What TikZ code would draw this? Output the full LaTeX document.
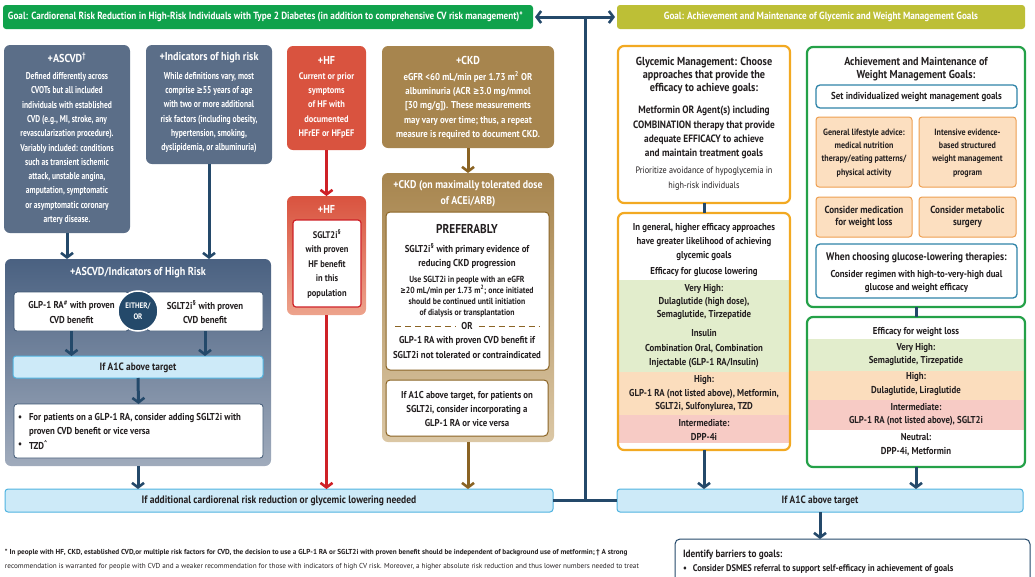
\documentclass[tikz,border=0pt]{standalone}
\usepackage{fontspec}
\setmainfont{PT Sans}[FakeStretch=0.88]
\newfontfamily\narrowf{PT Sans}[FakeStretch=0.76]
\newfontfamily\fnf{PT Sans}[FakeStretch=1.0]
\newfontfamily\djv{DejaVu Sans}[FakeStretch=0.75]
\usetikzlibrary{arrows.meta}
\newcommand{\fs}[2]{\fontsize{#1}{#2}\selectfont}
\newcommand{\gesym}{{\djv ≥}}
\definecolor{cnavy}{HTML}{24496A}
\definecolor{cslate}{HTML}{5B6E88}
\definecolor{cslateD}{HTML}{4A6181}
\definecolor{cslateL}{HTML}{A0ABBC}
\definecolor{cgreen}{HTML}{10A24C}
\definecolor{colive}{HTML}{BDBF36}
\definecolor{chf}{HTML}{D9533F}
\definecolor{chfL}{HTML}{EDA38C}
\definecolor{cred}{HTML}{CE2127}
\definecolor{cbrown}{HTML}{A7854E}
\definecolor{cbrownL}{HTML}{DBC7A5}
\definecolor{cbrownD}{HTML}{8A6323}
\definecolor{corange}{HTML}{F2A922}
\definecolor{cbluef}{HTML}{CDEAF8}
\definecolor{cblueb}{HTML}{4FB3E0}
\definecolor{bgreen}{HTML}{E2EDCC}
\definecolor{borange}{HTML}{FBDDBD}
\definecolor{bred}{HTML}{F7CBC5}
\definecolor{cwgreen}{HTML}{24A148}
\definecolor{cwblue}{HTML}{2F84A8}
\definecolor{ofill}{HTML}{FCDFC0}
\definecolor{oborder}{HTML}{EE9F50}
\definecolor{txt}{HTML}{231F20}
\definecolor{cboxb}{HTML}{3E5673}
\tikzset{
  every node/.style={inner sep=0pt, outer sep=0pt},
  sz/.style 2 args={minimum width=#1pt, minimum height=#2pt},
  con/.style={draw=cnavy, line width=3pt},
  arr/.style={con, -{Straight Barb[length=4.5pt,width=12pt,line width=2.6pt]}},
  rarr/.style={draw=cred, line width=3pt, -{Straight Barb[length=4.5pt,width=12pt,line width=2.6pt]}},
  barr/.style={draw=cbrownD, line width=3pt, -{Straight Barb[length=4.5pt,width=12pt,line width=2.6pt]}},
  wt/.style={text=white, align=center, font=\bfseries\fs{10}{14.3}},
  dt/.style={text=txt, align=center, font=\bfseries\fs{10}{14.3}},
  ttl/.style={text=white, align=center, font=\bfseries\fs{11.5}{13}},
  slatebox/.style={fill=cslate, rounded corners=6pt},
  wbox/.style={fill=white, draw=cboxb, line width=0.8pt, rounded corners=3pt},
  bluebar/.style={fill=cbluef, draw=cblueb, line width=1pt, rounded corners=3pt},
  obox/.style={fill=ofill, draw=oborder, line width=1pt, rounded corners=3pt},
  wbbox/.style={fill=white, draw=cwblue, line width=1.3pt, rounded corners=4pt},
  bantext/.style={text=white, font=\bfseries\fs{10.4}{12}},
}
\begin{document}
\begin{tikzpicture}[x=1pt,y=-1pt]
\useasboundingbox (0,0) rectangle (1035,576);
% ===== banners
\node[fill=cgreen, rounded corners=3pt, sz={530}{24}, anchor=north west] (gl) at (3,5) {};
\node[bantext, anchor=west] (glt) at (8,17) {Goal: Cardiorenal Risk Reduction in High-Risk Individuals with Type 2 Diabetes (in addition to comprehensive CV risk management)*};
\node[fill=colive, rounded corners=3pt, sz={408}{24}, anchor=north west] (gr) at (617,5) {};
\node[bantext] (grt) at (gr.center) {Goal: Achievement and Maintenance of Glycemic and Weight Management Goals};
\coordinate (top) at (585,17);
% ===== left column
\node[slatebox, sz={126}{188}] (asc) at (67,139) {};
\node[ttl] at (67,58) {+ASCVD\textsuperscript{†}};
\node[wt, font=\narrowf\bfseries\fs{9.9}{14.3}] at (67,148.5) {Defined differently across\\CVOTs but all included\\individuals with established\\CVD (e.g., MI, stroke, any\\revascularization procedure).\\Variably included: conditions\\such as transient ischemic\\attack, unstable angina,\\amputation, symptomatic\\or asymptomatic coronary\\artery disease.};
\node[slatebox, sz={126}{119}] (ind) at (209,104.5) {};
\node[ttl] at (209,58) {+Indicators of high risk};
\node[wt, font=\narrowf\bfseries\fs{10}{14.3}] at (209,112.5) {While definitions vary, most\\comprise \gesym55 years of age\\with two or more additional\\risk factors (including obesity,\\hypertension, smoking,\\dyslipidemia, or albuminuria)};
\node[rounded corners=6pt, top color=cslateD, bottom color=cslateL, sz={266}{207}] (big) at (138,362.5) {};
\node[ttl] at (138,273) {+ASCVD/Indicators of High Risk};
\node[wbox, sz={115}{39}] (glp) at (71.5,311.5) {};
\node[dt] at (71.5,312) {GLP-1 RA\textsuperscript{\#} with proven\\CVD benefit};
\node[wbox, sz={116}{39}] (sgl) at (205,311.5) {};
\node[dt] at (205,312) {SGLT2i\textsuperscript{§} with proven\\CVD benefit};
\node[circle, fill=cnavy, draw=white, line width=1.5pt, minimum size=40pt] (eo) at (138,311) {};
\node[text=white, align=center, font=\bfseries\fs{8}{10.5}] at (eo.center) {EITHER/\\OR};
\node[bluebar, sz={250}{22}] (a1c) at (138,367) {};
\node[dt, font=\bfseries\fs{10.6}{12}] at (138,367.5) {If A1C above target};
\node[wbox, sz={249}{54}] (bul) at (138.5,431) {};
\node[dt] at (20,418) {•};
\node[dt, align=left, anchor=west] at (29,425) {For patients on a GLP-1 RA, consider adding SGLT2i with\\proven CVD benefit or vice versa};
\node[dt] at (20,445) {•};
\node[dt, anchor=west] at (29,445) {TZD\textsuperscript{\textasciicircum}};
% ===== HF
\node[fill=chf, rounded corners=6pt, sz={79}{104}] (hf1) at (326.5,98) {};
\node[ttl] at (326.5,60) {+HF};
\node[wt, font=\bfseries\fs{9.5}{14.3}] at (326.5,105.5) {Current or prior\\symptoms\\of HF with\\documented\\HFrEF or HFpEF};
\node[rounded corners=6pt, top color=chf, bottom color=chfL, sz={79}{119}] (hf2) at (326.5,255.5) {};
\node[ttl] at (326.5,209) {+HF};
\node[fill=white, draw=cred, line width=1.2pt, rounded corners=3pt, sz={68}{87}] (hf2in) at (327,263.5) {};
\node[dt, font=\bfseries\fs{9.6}{14.5}] at (327,264) {SGLT2i\textsuperscript{§}\\with proven\\HF benefit\\in this\\population};
% ===== CKD
\node[fill=cbrown, rounded corners=6pt, sz={172}{102}] (ckd1) at (468,97) {};
\node[ttl] at (468,60) {+CKD};
\node[wt] at (468,105.5) {eGFR <60 mL/min per 1.73 m\textsuperscript{2} OR\\albuminuria (ACR \gesym3.0 mg/mmol\\{[}30 mg/g{]}). These measurements\\may vary over time; thus, a repeat\\measure is required to document CKD.};
\node[rounded corners=6pt, top color=cbrown, bottom color=cbrownL, sz={172}{269}] (ckd2) at (468,307.5) {};
\node[wt, font=\bfseries\fs{11.2}{16}] at (468,194) {+CKD (on maximally tolerated dose\\of ACEi/ARB)};
\node[fill=white, draw=cbrownD, line width=1pt, rounded corners=4pt, sz={163}{158}] (ckdin) at (467.5,291) {};
\node[dt, font=\bfseries\fs{12.8}{15}] at (467,229) {PREFERABLY};
\node[dt] at (467,256) {SGLT2i\textsuperscript{§} with primary evidence of\\reducing CKD progression};
\node[dt, font=\bfseries\fs{8.8}{11}] at (467,296.5) {Use SGLT2i in people with an eGFR\\\gesym20 mL/min per 1.73 m\textsuperscript{2}; once initiated\\should be continued until initiation\\of dialysis or transplantation};
\node[dt, font=\bfseries\fs{10}{12}] (orn) at (467,326) {OR};
\draw[cbrownD, line width=1pt, dash pattern=on 6pt off 4pt] (395,326) -- ([xshift=-6pt]orn.west);
\draw[cbrownD, line width=1pt, dash pattern=on 6pt off 4pt] ([xshift=6pt]orn.east) -- (540,326);
\node[dt] at (467,347.5) {GLP-1 RA with proven CVD benefit if\\SGLT2i not tolerated or contraindicated};
\node[fill=white, draw=cbrownD, line width=1pt, rounded corners=4pt, sz={162}{56}] (ckdin2) at (467,408) {};
\node[dt] at (467,409) {If A1C above target, for patients on\\SGLT2i, consider incorporating a\\GLP-1 RA or vice versa};
% ===== glycemic
\node[fill=white, draw=corange, line width=2.2pt, rounded corners=6pt, sz={172}{157}] (gly1) at (704,124.5) {};
\node[dt, font=\bfseries\fs{11.6}{13}] at (704,76) {Glycemic Management: Choose\\approaches that provide the\\efficacy to achieve goals:};
\node[dt, font=\bfseries\fs{10.6}{14.3}] at (704,132.5) {Metformin OR Agent(s) including\\COMBINATION therapy that provide\\adequate EFFICACY to achieve\\and maintain treatment goals};
\node[dt, font=\fs{9.3}{14.5}] at (704,178.5) {Prioritize avoidance of hypoglycemia in\\high-risk individuals};
\node[fill=white, sz={172}{237}, rounded corners=6pt] (gly2) at (704,331.5) {};
\fill[bgreen] (619,280) rectangle (789,372);
\fill[borange] (619,372) rectangle (789,415);
\fill[bred] (619,415) rectangle (789,443);
\draw[corange, line width=2.2pt, rounded corners=6pt] (gly2.north west) rectangle (gly2.south east);
\node[dt] at (704,242) {In general, higher efficacy approaches\\have greater likelihood of achieving\\glycemic goals};
\node[dt] at (704,272) {Efficacy for glucose lowering};
\node[dt, font=\bfseries\fs{10}{13}] at (704,302) {Very High:\\Dulaglutide (high dose),\\Semaglutide, Tirzepatide};
\node[dt] at (704,333) {Insulin};
\node[dt] at (704,356) {Combination Oral, Combination\\Injectable (GLP-1 RA/Insulin)};
\node[dt, font=\bfseries\fs{10}{13.5}] at (704,393.5) {High:\\GLP-1 RA (not listed above), Metformin,\\SGLT2i, Sulfonylurea, TZD};
\node[dt] at (704,430) {Intermediate:\\DPP-4i};
% ===== weight
\node[fill=white, draw=cwgreen, line width=2.2pt, rounded corners=6pt, sz={218}{260}] (wt1) at (916,177) {};
\node[dt, font=\bfseries\fs{11.5}{12.5}] at (916,69) {Achievement and Maintenance of\\Weight Management Goals:};
\node[wbbox, sz={201}{23}] (setg) at (916.5,96.5) {};
\node[dt, font=\bfseries\fs{10.1}{12}] at (setg.center) {Set individualized weight management goals};
\node[obox, sz={96}{70}] (ob1) at (864,152) {};
\node[dt, font=\bfseries\fs{9.1}{13.3}] at (864,153) {General lifestyle advice:\\medical nutrition\\therapy/eating patterns/\\physical activity};
\node[obox, sz={97}{70}] (ob2) at (967.5,152) {};
\node[dt, font=\bfseries\fs{9.1}{13.3}] at (967.5,153) {Intensive evidence-\\based structured\\weight management\\program};
\node[obox, sz={96}{40}] (ob3) at (864,217) {};
\node[dt, font=\bfseries\fs{10.3}{12.5}] at (864,217) {Consider medication\\for weight loss};
\node[obox, sz={97}{40}] (ob4) at (967.5,217) {};
\node[dt, font=\bfseries\fs{10.3}{12.5}] at (967.5,217) {Consider metabolic\\surgery};
\node[wbbox, sz={201}{54}] (glb) at (916.5,271) {};
\node[dt, font=\bfseries\fs{11}{12}] at (916.5,258) {When choosing glucose-lowering therapies:};
\node[dt, font=\bfseries\fs{10}{13}] at (916.5,281.5) {Consider regimen with high-to-very-high dual\\glucose and weight efficacy};
\node[fill=white, sz={218}{150}, rounded corners=6pt] (wt2) at (916,392) {};
\fill[bgreen] (808,339) rectangle (1024,371);
\fill[borange] (808,371) rectangle (1024,400);
\fill[bred] (808,400) rectangle (1024,430);
\draw[cwgreen, line width=2.2pt, rounded corners=6pt] (wt2.north west) rectangle (wt2.south east);
\node[dt] at (916,332) {Efficacy for weight loss};
\node[dt, font=\bfseries\fs{10}{13}] at (916,354.5) {Very High:\\Semaglutide, Tirzepatide};
\node[dt, font=\bfseries\fs{10}{13.5}] at (916,384) {High:\\Dulaglutide, Liraglutide};
\node[dt, font=\bfseries\fs{10}{13}] at (916,414.5) {Intermediate:\\GLP-1 RA (not listed above), SGLT2i};
\node[dt] at (916,445) {Neutral:\\DPP-4i, Metformin};
% ===== bottom bars
\node[bluebar, sz={548}{23}] (lbar) at (279,500.5) {};
\node[dt, font=\bfseries\fs{10.8}{12}] at (lbar.center) {If additional cardiorenal risk reduction or glycemic lowering needed};
\node[bluebar, sz={406}{23}] (rbar) at (820,500.5) {};
\node[dt, font=\bfseries\fs{10.6}{12}] at (rbar.center) {If A1C above target};
\coordinate (hub) at (585,500.5);
\node[fill=white, draw=cnavy, line width=1pt, rounded corners=5pt, sz={355}{70}, anchor=north west] (barr) at (675,539) {};
\node[anchor=west, text=txt, font=\bfseries\fs{10.5}{12}] at (683,555) {Identify barriers to goals:};
\node[anchor=west, text=txt, font=\bfseries\fs{9.6}{12}] at (683,569) {•\hspace{6pt}Consider DSMES referral to support self-efficacy in achievement of goals};
% footnote
\node[anchor=north west, align=left, text=txt, font=\fnf\fs{7.2}{14}] (fn) at (5,549) {{\bfseries * In people with HF, CKD, established CVD,or multiple risk factors for CVD, the decision to use a GLP-1 RA or SGLT2i with proven benefit should be independent of background use of metformin;\,† A strong}\\recommendation is warranted for people with CVD and a weaker recommendation for those with indicators of high CV risk. Moreover, a higher absolute risk reduction and thus lower numbers needed to treat};
% ===== connectors
\draw[con, {Straight Barb[length=4.5pt,width=12pt,line width=2.6pt]}-{Straight Barb[length=4.5pt,width=12pt,line width=2.6pt]}, shorten <=2pt, shorten >=2pt] (gl.east) -- (gr.west);
\draw[con] (top) -- (hub);
\draw[con] (lbar.east) -- (rbar.west);
\draw[arr] (asc.south) -- (asc.south |- big.north);
\draw[arr] (ind.south) -- (ind.south |- big.north);
\draw[arr] (glp.south) -- (glp.south |- a1c.north);
\draw[arr] (sgl.south) -- (sgl.south |- a1c.north);
\draw[arr] (a1c.south) -- (bul.north);
\draw[arr] (big.south) -- (big.south |- lbar.north);
\draw[rarr] (hf1.south) -- (hf2.north);
\draw[rarr] (hf2.south) -- (hf2.south |- lbar.north);
\draw[barr] (ckd1.south) -- (ckd2.north);
\draw[barr] (ckd2.south) -- (ckd2.south |- lbar.north);
\draw[con] (gly1.south) -- (gly2.north);
\draw[con] (wt1.south) -- (wt2.north);
\draw[arr] (gly2.south) -- (gly2.south |- rbar.north);
\draw[arr] (wt2.south) -- (wt2.south |- rbar.north);
\draw[arr] (rbar.south) -- (rbar.south |- barr.north);
\end{tikzpicture}
\end{document}
